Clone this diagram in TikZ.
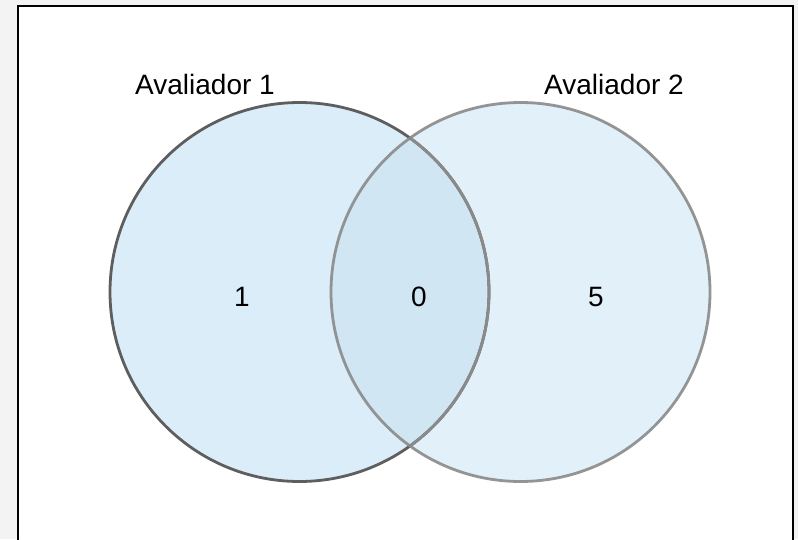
\documentclass[tikz,border=0pt]{standalone}
\usepackage{fontspec}
\setmainfont{Liberation Sans}
\definecolor{bggray}{HTML}{F3F3F3}
\definecolor{leftfill}{HTML}{DBEDF8}
\definecolor{rightfill}{HTML}{E1F0F9}
\definecolor{midfill}{HTML}{D0E6F3}
\definecolor{leftline}{HTML}{5E5E5E}
\definecolor{rightline}{HTML}{8A8A8A}
\tikzset{
  lbl/.style={font=\fontsize{28}{33}\selectfont, text=black, inner sep=0pt},
}
\begin{document}
\begin{tikzpicture}[x=1pt,y=-1pt]
\useasboundingbox (0,0) rectangle (798,539);
\fill[bggray] (0,0) rectangle (798,539);
\draw[fill=white, line width=1.5pt] (18,6) rectangle (793,548);
\coordinate (cl) at (299.5,292);
\coordinate (cr) at (520.5,292);
\fill[leftfill] (cl) circle (189.5);
\fill[rightfill] (cr) circle (189.5);
\begin{scope}
\clip (cl) circle (189.5);
\fill[midfill] (cr) circle (189.5);
\end{scope}
\draw[leftline, line width=2.8pt] (cl) circle (189.5);
\begin{scope}
\clip (cr) circle (189.5);
\draw[rightline, line width=2.8pt] (cl) circle (189.5);
\end{scope}
\draw[rightline, line width=2.8pt, draw opacity=0.9] (cr) circle (189.5);
\node[lbl] (t1) at (205,84) {Avaliador 1};
\node[lbl] (t2) at (614,84) {Avaliador 2};
\node[lbl] (n1) at (242,297) {1};
\node[lbl] (n0) at (419,297) {0};
\node[lbl] (n5) at (596,297) {5};
\end{tikzpicture}
\end{document}
